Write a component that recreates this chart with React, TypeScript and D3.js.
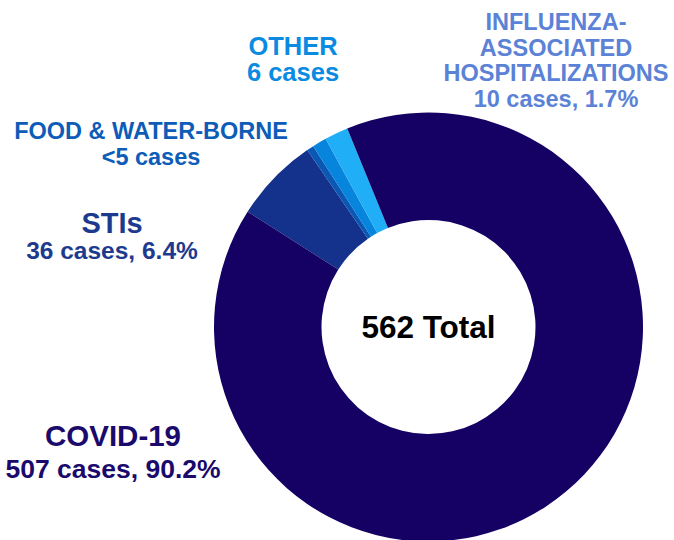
import React from 'react';
import * as d3 from 'd3';

const categories = ['STIs', 'Food & Water-borne', 'Other', 'Influenza-associated hospitalizations', 'COVID-19'];
const cases = [36, 3, 6, 10, 507];
const sliceColors = ['#14328b', '#0a58b4', '#0784dc', '#20aff7', '#150064'];
const totalLabel = '562 Total';

// label lines per category (same order as above)
const labelLines = [
  ['STIs', '36 cases, 6.4%'],
  ['FOOD & WATER-BORNE', '<5 cases'],
  ['OTHER', '6 cases'],
  ['INFLUENZA-', 'ASSOCIATED', 'HOSPITALIZATIONS', '10 cases, 1.7%'],
  ['COVID-19', '507 cases, 90.2%'],
];
const labelColors = ['#1e3a8e', '#0d5cb8', '#0a8ae0', '#5b82d6', '#1a0a6b'];

const W = 674;
const H = 540;
const cx = 428.5;
const cy = 327;
const outerR = 214.5;
const innerR = 107;
const start = (-57.5 * Math.PI) / 180;

// where each label block sits: x center, first baseline, line gap, font sizes
const labelLayout = [
  { x: 112, y: 233, gap: 26, sizes: [29, 24.5] },
  { x: 151, y: 139, gap: 26, sizes: [23.5, 23.5] },
  { x: 293, y: 55, gap: 26, sizes: [25.5, 25.5] },
  { x: 556, y: 30, gap: 25.7, sizes: [23.5, 23.5, 23.5, 23.5] },
  { x: 113, y: 446, gap: 32, sizes: [29.5, 26.5] },
];

export default function App() {
  const data = categories.map((name, i) => ({ name, cases: cases[i], color: sliceColors[i] }));
  const arcs = d3.pie<any>()
    .sort(null)
    .value(d => d.cases)
    .startAngle(start)
    .endAngle(start + 2 * Math.PI)(data);
  const arc = d3.arc<any>().innerRadius(innerR).outerRadius(outerR);

  return (
    <svg width={W} height={H} style={{ position: 'absolute', left: 0, top: 0, display: 'block' }}
      fontFamily="'Liberation Sans', Arial, sans-serif" fontWeight="bold" textAnchor="middle">
      <rect width={W} height={H} fill="#fff" />
      <g transform={`translate(${cx},${cy})`}>
        {arcs.map(a => (
          <path key={a.data.name} d={arc(a) as string} fill={a.data.color} />
        ))}
        <text y={11} fontSize={31.5} fill="#000">{totalLabel}</text>
      </g>
      {labelLines.map((lines, i) => {
        const l = labelLayout[i];
        return (
          <text key={categories[i]} fill={labelColors[i]}>
            {lines.map((t, j) => (
              <tspan key={j} x={l.x} y={l.y + j * l.gap} fontSize={l.sizes[j]}>{t}</tspan>
            ))}
          </text>
        );
      })}
    </svg>
  );
}
